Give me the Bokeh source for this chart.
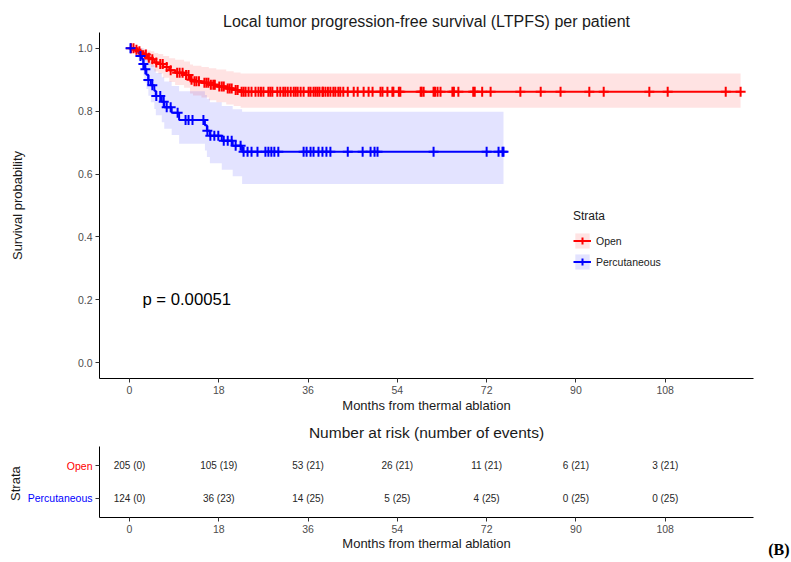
import numpy as np
from bokeh.plotting import figure
from bokeh.models import (Range1d, FixedTicker, PrintfTickFormatter, Label, Legend,
                          LegendItem, ColumnDataSource)
from bokeh.embed import file_html
from bokeh.resources import INLINE
from bokeh.core.properties import value

# ---------------- data ----------------
title_main = "Local tumor progression-free survival (LTPFS) per patient"
title_table = "Number at risk (number of events)"
x_label = "Months from thermal ablation"
y_label = "Survival probability"
table_y_label = "Strata"
strata = ["Open", "Percutaneous"]
p_value_text = "p = 0.00051"
panel_tag = "(B)"
month_ticks = [0, 18, 36, 54, 72, 90, 108]
surv_ticks = [0.0, 0.2, 0.4, 0.6, 0.8, 1.0]

open_times = [0, 1.0, 1.8, 2.5, 3.0, 3.6, 4.3, 5.0, 5.8, 6.8, 8.0, 9.2, 11.0, 12.2, 12.8,
              14.5, 16.0, 17.5, 19.5, 21.0, 22.4]
open_surv = [1.0, .995, .990, .985, .980, .970, .965, .955, .950, .940, .930, .922, .915,
             .900, .895, .890, .884, .878, .872, .867, .862]
open_upper = [1.0, 1.0, 1.0, .999, .997, .993, .990, .985, .982, .975, .968, .963, .958,
              .948, .944, .940, .936, .932, .927, .923, .920]
open_lower = [1.0, .985, .977, .968, .961, .947, .940, .926, .920, .906, .893, .883, .874,
              .856, .850, .843, .835, .828, .821, .816, .811]
open_censor = [0.3, 0.8, 1.4, 2.0, 3.3, 3.9, 4.6, 5.4, 6.2, 6.7, 7.5, 8.3, 9.6, 10.1, 10.7,
               11.4, 11.9, 12.5, 13.1, 13.5, 14.0, 15.1, 15.5, 15.9, 16.4, 16.9, 17.2, 18.1,
               18.6, 19.0, 19.8, 20.2, 20.6, 21.4, 21.8, 22.6, 23.0, 23.4, 24.0, 24.6, 25.4,
               26.0, 26.5, 27.0, 28.0, 28.4, 28.8, 29.8, 30.4, 31.0, 31.4, 31.9, 32.5, 33.1,
               33.5, 33.9, 34.5, 35.1, 36.1, 36.5, 37.1, 37.5, 37.9, 38.3, 38.9, 39.0, 39.5,
               40.0, 40.5, 41.1, 41.5, 42.1, 42.5, 43.1, 44.0, 45.2, 46.0, 47.2, 48.2, 49.0,
               50.6, 51.0, 52.0, 53.0, 53.2, 54.3, 54.6, 58.7, 58.9, 59.3, 61.3, 61.6, 62.1,
               62.7, 65.1, 65.4, 66.3, 69.3, 69.6, 71.1, 72.8, 78.8, 82.9, 86.9, 92.7, 95.6,
               104.8, 108.5, 120.2, 123.2]

perc_times = [0, 1.2, 1.8, 2.2, 2.5, 2.8, 3.0, 3.4, 3.8, 4.3, 5.0, 5.3, 6.5, 7.0, 8.5, 10.0,
              15.2, 15.6, 16.2, 18.6, 20.8, 22.7]
perc_surv = [1.0, .992, .984, .975, .966, .950, .933, .916, .899, .882, .865, .848, .830,
             .812, .795, .772, .755, .738, .722, .706, .690, .671]
perc_upper = [1.0, 1.0, 1.0, 1.0, 1.0, .994, .983, .971, .959, .947, .935, .921, .908, .894,
              .880, .863, .851, .839, .828, .816, .806, .798]
perc_lower = [1.0, .976, .962, .948, .935, .913, .891, .870, .849, .828, .807, .787, .765,
              .744, .724, .696, .675, .654, .634, .614, .593, .568]
perc_censor = [0.2, 2.2, 2.8, 3.2, 3.8, 4.6, 5.4, 6.2, 6.9, 7.5, 8.3, 9.7, 11.3, 11.9, 12.7,
               14.9, 15.7, 16.3, 17.1, 17.9, 19.0, 19.8, 20.6, 21.4, 22.4, 23.0, 23.8, 24.6,
               25.8, 27.4, 28.0, 28.6, 29.2, 30.0, 35.1, 35.7, 36.5, 37.1, 38.1, 38.9, 39.7,
               40.5, 44.0, 47.0, 48.6, 49.4, 50.0, 61.3, 72.0, 74.4, 75.2, 75.4]

risk_times = [0, 18, 36, 54, 72, 90, 108]
open_at_risk = [205, 105, 53, 26, 11, 6, 3]
open_events = [0, 19, 21, 21, 21, 21, 21]
perc_at_risk = [124, 36, 14, 5, 4, 0, 0]
perc_events = [0, 23, 25, 25, 25, 25, 25]

colors = ["#FF0000", "#0000FF"]
FONT = "Liberation Sans"

# ---------------- layout geometry (pixels) ----------------
W = 791
TOP_H = 420
TAB_H = 142
FRAME_L, FRAME_R = 99, 753          # panel frame (both plots)
X_LO, X_HI = -6.05, 125.8           # month limits of the panel
PX_PER_MONTH = (FRAME_R - FRAME_L) / (X_HI - X_LO)
TAB_TOP, TAB_BOT = 26, 97           # table panel top / bottom inside the table canvas
LVL_LO, LVL_HI = 0.4, 2.6
PX_PER_LVL = (TAB_BOT - TAB_TOP) / (LVL_HI - LVL_LO)


def tx(px):
    return X_LO + (px - FRAME_L) / PX_PER_MONTH


def ty(py):
    return LVL_HI - (py - TAB_TOP) / PX_PER_LVL


def step_xy(times, vals, t_end):
    t_all = np.array(list(times) + [t_end], dtype=float)
    xs = np.repeat(t_all, 2)[1:-1]
    ys = np.repeat(np.array(vals, dtype=float), 2)
    return xs, ys


def surv_at(times, surv, t):
    idx = np.searchsorted(np.array(times), np.array(t), side="right") - 1
    return np.array(surv)[idx]


def style_axis(ax):
    ax.axis_line_color = "black"
    ax.axis_line_width = 1
    ax.major_tick_line_color = "#333333"
    ax.major_tick_out = 4
    ax.major_tick_in = 0
    ax.minor_tick_out = 0
    ax.minor_tick_in = 0
    ax.major_label_text_color = "#4D4D4D"
    ax.major_label_text_font = FONT
    ax.major_label_text_font_size = "10.5px"
    ax.major_label_standoff = 3
    ax.axis_label_text_font = FONT
    ax.axis_label_text_font_size = "13px"
    ax.axis_label_text_font_style = "normal"
    ax.axis_label_text_color = "#1a1a1a"


# ---------------- survival plot ----------------
p = figure(width=W, height=TOP_H, x_range=Range1d(X_LO, X_HI), y_range=Range1d(-0.05, 1.05),
           output_backend="svg", toolbar_location=None,
           min_border_left=FRAME_L, min_border_right=W - FRAME_R, min_border_top=32,
           min_border_bottom=42)
p.title.text = title_main
p.title.align = "center"
p.title.text_font = FONT
p.title.text_font_size = "16px"
p.title.text_font_style = "normal"
p.title.text_color = "#1a1a1a"
p.title.standoff = 6
p.outline_line_color = None
p.xgrid.visible = False
p.ygrid.visible = False

groups = [
    (open_times, open_surv, open_upper, open_lower, open_censor),
    (perc_times, perc_surv, perc_upper, perc_lower, perc_censor),
]
band_r, line_r, cens_r = [], [], []
for (tt, ss, uu, ll, cc), col in zip(groups, colors):
    t_end = max(cc)
    xs, y_up = step_xy(tt, uu, t_end)
    _, y_lo = step_xy(tt, ll, t_end)
    band_r.append(p.varea(x=xs, y1=y_lo, y2=y_up, fill_color=col, fill_alpha=0.11))
for (tt, ss, uu, ll, cc), col in zip(groups, colors):
    t_end = max(cc)
    xs, ys = step_xy(tt, ss, t_end)
    line_r.append(p.line(x=xs, y=ys, line_color=col, line_width=2))
for (tt, ss, uu, ll, cc), col in zip(groups, colors):
    cy = surv_at(tt, ss, cc)
    cens_r.append(p.scatter(x=cc, y=cy, marker="cross", size=10, line_color=col,
                            line_width=2))

p.xaxis.ticker = FixedTicker(ticks=month_ticks)
p.yaxis.ticker = FixedTicker(ticks=surv_ticks)
p.yaxis.formatter = PrintfTickFormatter(format="%.1f")
p.xaxis.axis_label = x_label
p.yaxis.axis_label = y_label
style_axis(p.xaxis[0])
style_axis(p.yaxis[0])
p.xaxis.axis_label_standoff = 1
p.yaxis.axis_label_standoff = 50

p.add_layout(Label(x=2.6, y=0.2, text=p_value_text, text_font=FONT, text_font_size="16.7px",
                   text_align="left", text_baseline="middle", text_color="black"))

legend = Legend(items=[LegendItem(label=strata[i], renderers=[band_r[i], line_r[i], cens_r[i]])
                       for i in range(2)],
                title="Strata", location=(474, 107))
legend.title_text_font = FONT
legend.title_text_font_size = "12px"
legend.title_text_font_style = "normal"
legend.title_text_color = "#1a1a1a"
legend.label_text_font = FONT
legend.label_text_font_size = "10.5px"
legend.label_text_color = "#1a1a1a"
legend.glyph_width = 18
legend.glyph_height = 19
legend.spacing = 2
legend.padding = 0
legend.margin = 0
legend.border_line_color = None
legend.background_fill_alpha = 0
legend.title_standoff = 8
p.add_layout(legend)

# ---------------- risk table (frame covers the whole canvas) ----------------
t = figure(width=W, height=TAB_H, x_range=Range1d(tx(0), tx(W)),
           y_range=Range1d(ty(TAB_H), ty(0)),
           output_backend="svg", toolbar_location=None,
           min_border_left=0, min_border_right=0, min_border_top=0, min_border_bottom=0)
t.outline_line_color = None
t.xgrid.visible = False
t.ygrid.visible = False

t.xaxis.ticker = FixedTicker(ticks=month_ticks)
t.xaxis.bounds = (X_LO, X_HI)
t.xaxis.fixed_location = LVL_LO
style_axis(t.xaxis[0])

t.yaxis.ticker = FixedTicker(ticks=[1, 2])
t.yaxis.major_label_overrides = {1: "", 2: ""}
t.yaxis.bounds = (LVL_LO, LVL_HI)
t.yaxis.fixed_location = X_LO
style_axis(t.yaxis[0])
t.yaxis.major_label_standoff = 0

open_txt = [f"{n} ({e})" for n, e in zip(open_at_risk, open_events)]
perc_txt = [f"{n} ({e})" for n, e in zip(perc_at_risk, perc_events)]
src = ColumnDataSource(dict(x=risk_times + risk_times,
                            y=[2] * len(risk_times) + [1] * len(risk_times),
                            txt=open_txt + perc_txt))
t.text(x="x", y="y", text="txt", source=src, text_font=value(FONT), text_font_size="10px",
       text_align="center", text_baseline="middle", text_color="#262626")

lab_src = ColumnDataSource(dict(x=[X_LO, X_LO], y=[2, 1], txt=strata, col=colors))
t.text(x="x", y="y", text="txt", source=lab_src, x_offset=-7, text_font=value(FONT),
       text_font_size="10.5px", text_color="col", text_align="right", text_baseline="middle")

x_mid = (X_LO + X_HI) / 2
t.text(x=[x_mid], y=[ty(12)], text=[title_table], text_font=value(FONT),
       text_font_size="15.5px", text_align="center", text_baseline="middle",
       text_color="#1a1a1a")
t.text(x=[x_mid], y=[ty(123)], text=[x_label], text_font=value(FONT),
       text_font_size="13px", text_align="center", text_baseline="middle",
       text_color="#1a1a1a")
t.text(x=[tx(15)], y=[(LVL_LO + LVL_HI) / 2 - 0.05], text=[table_y_label], angle=np.pi / 2,
       text_font=value(FONT), text_font_size="13px", text_align="center",
       text_baseline="middle", text_color="#1a1a1a")
t.text(x=[tx(789)], y=[ty(129)], text=[panel_tag], text_font=value("Liberation Serif"),
       text_font_style="bold", text_font_size="16px", text_align="right",
       text_baseline="middle", text_color="black")

open("out.html", "w").write(file_html([p, t], INLINE))
